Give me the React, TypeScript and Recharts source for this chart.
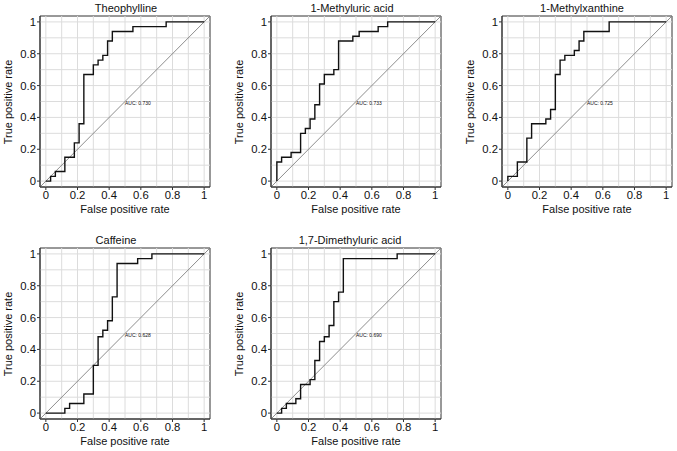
import React from 'react';
import { LineChart, Line, XAxis, YAxis, ReferenceLine, ReferenceArea, ReferenceDot } from 'recharts';

// ROC curve vertices (stepAfter): false positive rate / true positive rate
const theophyllineFpr = [0, 0.03, 0.06, 0.12, 0.18, 0.21, 0.24, 0.3, 0.33, 0.36, 0.39, 0.42, 0.55, 0.76, 1];
const theophyllineTpr = [0, 0.03, 0.06, 0.15, 0.24, 0.36, 0.67, 0.73, 0.76, 0.79, 0.88, 0.94, 0.97, 1, 1];

const methyluricFpr = [0, 0, 0.03, 0.09, 0.15, 0.18, 0.21, 0.24, 0.27, 0.3, 0.36, 0.39, 0.48, 0.52, 0.64, 0.7, 1];
const methyluricTpr = [0, 0.12, 0.15, 0.18, 0.3, 0.33, 0.39, 0.48, 0.61, 0.67, 0.7, 0.88, 0.91, 0.94, 0.97, 1, 1];

const methylxanthineFpr = [0, 0, 0.06, 0.12, 0.15, 0.24, 0.27, 0.3, 0.33, 0.36, 0.42, 0.45, 0.48, 0.64, 1];
const methylxanthineTpr = [0, 0.03, 0.12, 0.27, 0.36, 0.39, 0.45, 0.67, 0.76, 0.79, 0.82, 0.88, 0.94, 1, 1];

const caffeineFpr = [0, 0.12, 0.15, 0.24, 0.3, 0.33, 0.36, 0.39, 0.42, 0.45, 0.58, 0.67, 1];
const caffeineTpr = [0, 0.03, 0.06, 0.12, 0.3, 0.48, 0.52, 0.58, 0.73, 0.94, 0.97, 1, 1];

const dimethyluricFpr = [0, 0.03, 0.06, 0.12, 0.15, 0.21, 0.24, 0.27, 0.3, 0.33, 0.36, 0.39, 0.42, 0.76, 1];
const dimethyluricTpr = [0, 0.03, 0.06, 0.09, 0.18, 0.21, 0.33, 0.45, 0.48, 0.55, 0.7, 0.76, 0.97, 1, 1];

const titles = ['Theophylline', '1-Methyluric acid', '1-Methylxanthine', 'Caffeine', '1,7-Dimethyluric acid'];
const aucValues = ['0.730', '0.733', '0.725', '0.628', '0.690'];
const fprSeries = [theophyllineFpr, methyluricFpr, methylxanthineFpr, caffeineFpr, dimethyluricFpr];
const tprSeries = [theophyllineTpr, methyluricTpr, methylxanthineTpr, caffeineTpr, dimethyluricTpr];

const axisTicks = [0, 0.2, 0.4, 0.6, 0.8, 1];
const gridTicks = [0, 0.1, 0.2, 0.3, 0.4, 0.5, 0.6, 0.7, 0.8, 0.9, 1];
const DOMAIN: [number, number] = [-0.037, 1.037];

// plot box positions on the page
const layout = [
  { left: 40, top: 16, titleX: 126, titleY: 8 },
  { left: 271, top: 16, titleX: 352, titleY: 8 },
  { left: 502, top: 16, titleX: 582, titleY: 8 },
  { left: 40, top: 248, titleX: 116, titleY: 240 },
  { left: 271, top: 248, titleX: 350, titleY: 240 },
];

const BOX_W = 170;
const BOX_H = 171;
const FONT = '"Liberation Sans", Arial, Helvetica, sans-serif';

const fmt = (v: number) => String(v);

function Panel({ idx }: { idx: number }) {
  const pos = layout[idx];
  const data = fprSeries[idx].map((x, i) => ({ x, y: tprSeries[idx][i] }));
  const textStyle: React.CSSProperties = {
    position: 'absolute',
    fontFamily: FONT,
    fontSize: 11,
    color: '#111',
    whiteSpace: 'nowrap',
    lineHeight: 1,
  };
  return (
    <>
      <div style={{ ...textStyle, left: pos.titleX, top: pos.titleY, transform: 'translate(-50%, -50%)' }}>
        {titles[idx]}
      </div>
      <div
        style={{
          ...textStyle,
          left: pos.left - 32,
          top: pos.top + BOX_H / 2,
          transform: 'translate(-50%, -50%) rotate(-90deg)',
        }}
      >
        True positive rate
      </div>
      <div style={{ ...textStyle, left: pos.left + BOX_W / 2, top: pos.top + BOX_H + 22, transform: 'translate(-50%, -50%)' }}>
        False positive rate
      </div>
      <div style={{ position: 'absolute', left: pos.left - 30, top: pos.top - 5 }}>
        <LineChart width={30 + BOX_W + 5} height={5 + BOX_H + 22} margin={{ top: 5, right: 5, left: 0, bottom: 0 }}>
          <XAxis
            dataKey="x"
            type="number"
            domain={DOMAIN}
            allowDataOverflow
            ticks={axisTicks}
            tickFormatter={fmt}
            height={22}
            tickSize={3}
            tickMargin={1}
            stroke="#333"
            tick={{ fontSize: 11.3, fill: '#111', fontFamily: FONT }}
          />
          <YAxis
            dataKey="y"
            type="number"
            domain={DOMAIN}
            allowDataOverflow
            ticks={axisTicks}
            tickFormatter={fmt}
            width={30}
            tickSize={3}
            tickMargin={1}
            stroke="#333"
            tick={{ fontSize: 11.3, fill: '#111', fontFamily: FONT }}
          />
          {gridTicks.map((t) => (
            <ReferenceLine key={'v' + t} x={t} stroke="#dcdcdc" strokeWidth={1} />
          ))}
          {gridTicks.map((t) => (
            <ReferenceLine key={'h' + t} y={t} stroke="#dcdcdc" strokeWidth={1} />
          ))}
          <ReferenceLine
            segment={[
              { x: DOMAIN[0], y: DOMAIN[0] },
              { x: DOMAIN[1], y: DOMAIN[1] },
            ]}
            stroke="#808080"
            strokeWidth={0.9}
          />
          <ReferenceDot
            x={0.5}
            y={0.49}
            r={0}
            stroke="none"
            fill="none"
            label={{ value: `AUC: ${aucValues[idx]}`, position: 'right', offset: 0, fontSize: 5, fill: '#111', fontFamily: FONT }}
          />
          <Line
            data={data}
            dataKey="y"
            type="stepAfter"
            stroke="#111"
            strokeWidth={1.4}
            dot={false}
            isAnimationActive={false}
          />
          <ReferenceArea x1={DOMAIN[0]} x2={DOMAIN[1]} y1={DOMAIN[0]} y2={DOMAIN[1]} fill="none" stroke="#333" strokeWidth={1} />
        </LineChart>
      </div>
    </>
  );
}

export default function App() {
  return (
    <div style={{ position: 'absolute', left: 0, top: 0, width: 677, height: 451, background: '#fff' }}>
      {titles.map((_, i) => (
        <Panel key={i} idx={i} />
      ))}
    </div>
  );
}
